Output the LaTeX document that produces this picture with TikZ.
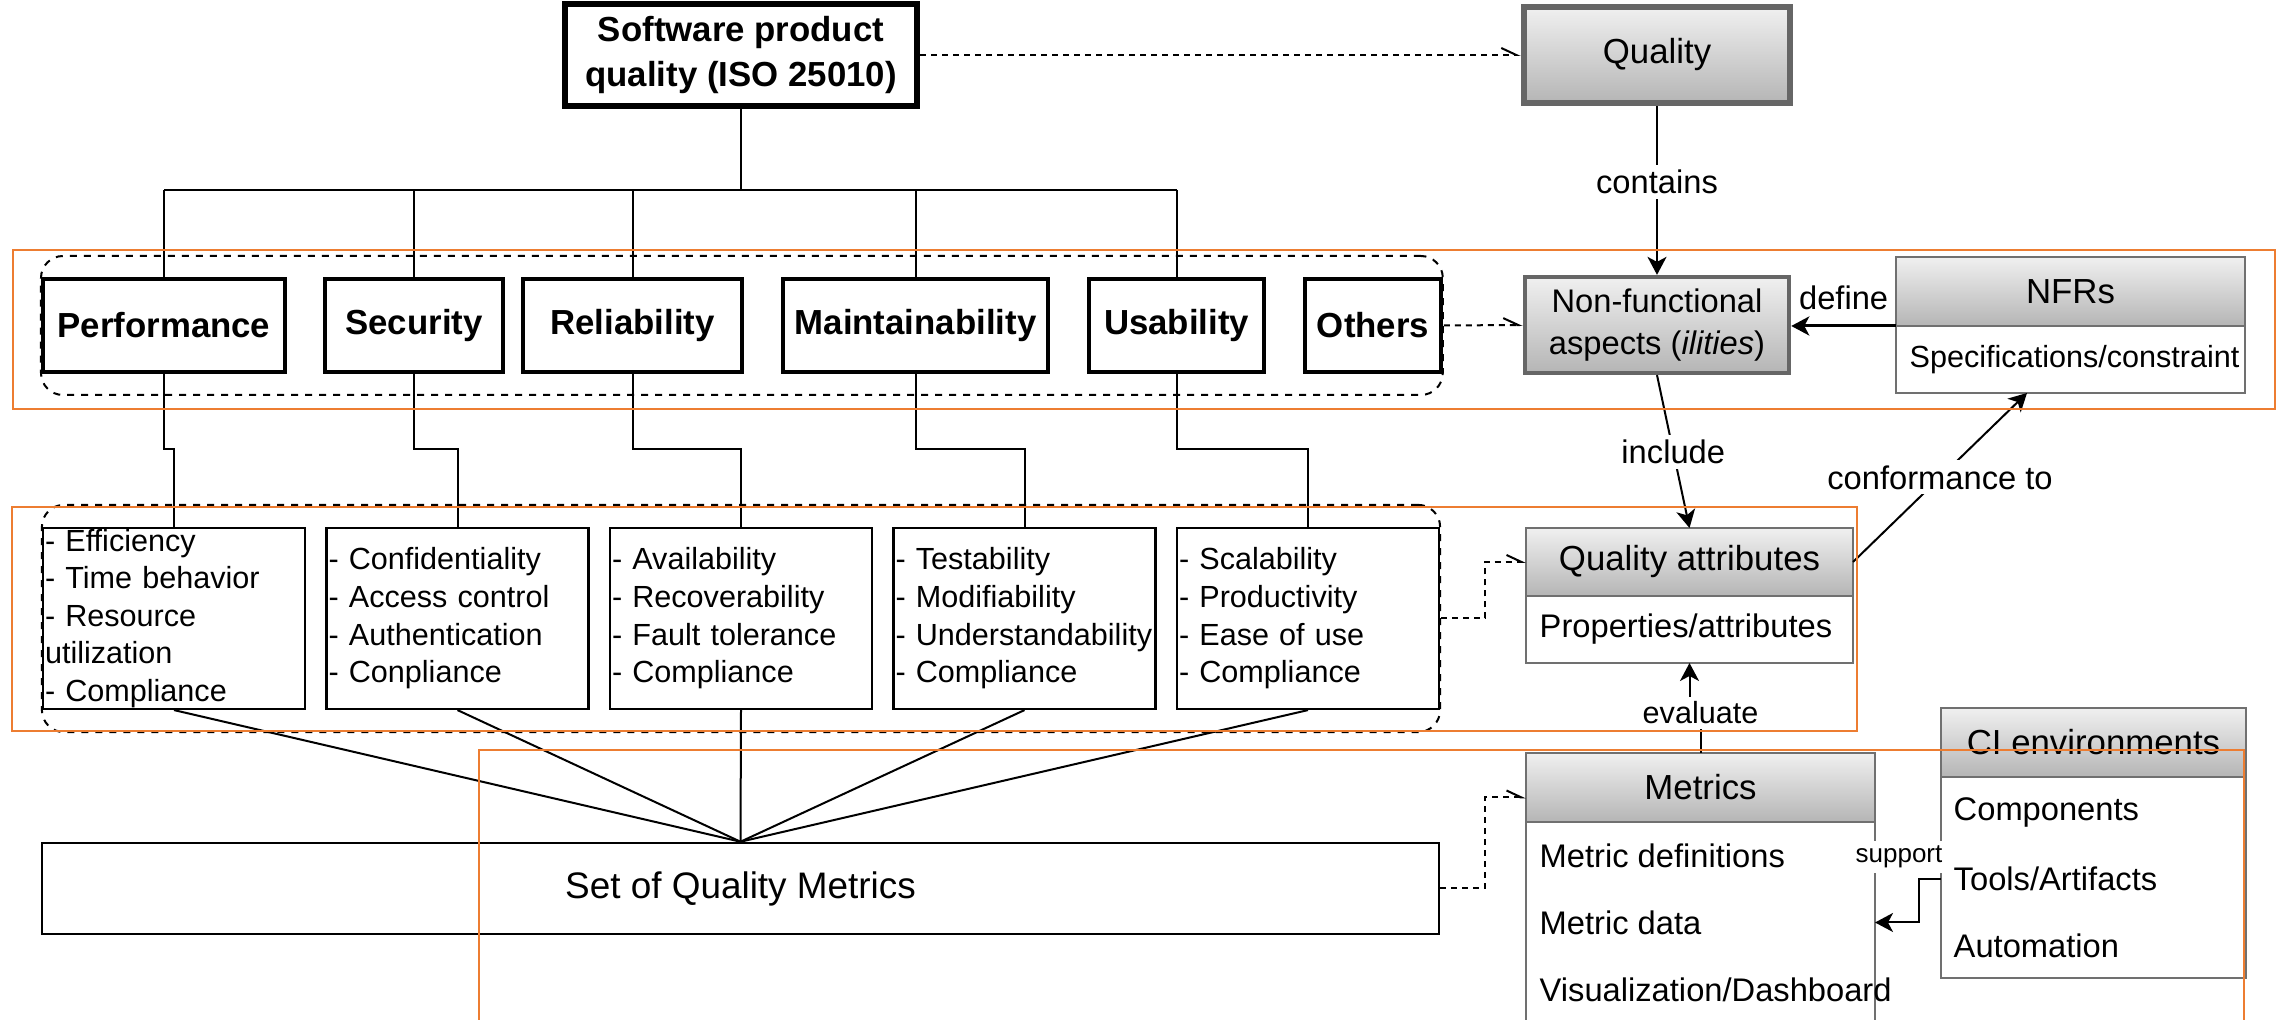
\documentclass[tikz,border=0pt]{standalone}
\usepackage{fontspec}
\setmainfont{Liberation Sans}
\usepackage{tikz}
\usetikzlibrary{arrows.meta,positioning,fit}

\definecolor{hdtop}{HTML}{F0F0F0}
\definecolor{hdbot}{HTML}{B5B5B5}
\definecolor{hdline}{HTML}{707070}
\definecolor{darkline}{HTML}{666666}
\definecolor{grporange}{HTML}{ED7D31}

\newcommand{\fntbig}{\fontsize{9.9}{12.9}\selectfont}
\newcommand{\fntmid}{\fontsize{9.3}{11.9}\selectfont}
\newcommand{\fntlist}{\fontsize{8.7}{10.7}\selectfont\hyphenpenalty=10000}

\tikzset{
  conn/.style={line width=0.2mm},
  catbox/.style={draw, line width=0.4mm, minimum height=9.3mm, font=\fntbig\bfseries},
  listbox/.style={draw, line width=0.22mm, minimum width=26.2mm, minimum height=18.1mm,
    text width=25.8mm, align=left, inner xsep=0.2mm, inner ysep=0pt, font=\fntlist},
  hdbox/.style={draw=hdline, line width=0.22mm, top color=hdtop, bottom color=hdbot,
    outer sep=0pt, font=\fntbig},
  bodybox/.style={draw=hdline, line width=0.22mm, fill=white, outer sep=0pt},
  item/.style={anchor=west, inner sep=0pt, font=\fntmid},
  lbl/.style={fill=white, inner sep=0.5mm, font=\fntmid},
  arr/.style={line width=0.2mm, -{Stealth[length=1.8mm,width=1.9mm,inset=0.5mm]}},
  dasharr/.style={line width=0.2mm, dash pattern=on 0.6mm off 0.5mm,
    -{Straight Barb[left,length=1.5mm,width=1.4mm]}},
  group/.style={draw, line width=0.2mm, dash pattern=on 0.7mm off 0.7mm, rounded corners=2.2mm},
  frame/.style={draw=grporange, line width=0.28mm}
}

\begin{document}
\begin{tikzpicture}[x=1mm,y=1mm]
\useasboundingbox (0,0) rectangle (228.4,102);
\clip (0,0) rectangle (228.4,102);

% Drawing standard and quality
\node[draw, line width=0.6mm, minimum width=35.2mm, minimum height=9.6mm, align=center,
  font=\fntbig\bfseries] (iso) at (74.1,96.5) {Software product\\quality (ISO 25010)};
\node[draw=darkline, line width=0.65mm, top color=hdtop, bottom color=hdbot,
  minimum width=26.6mm, minimum height=9.6mm, font=\fntbig] (qual) at (165.7,96.5) {Quality};

% Drawing quality characteristics
\node[catbox, minimum width=24.2mm] (perf) at (16.4,69.45) {Performance};
\node[catbox, minimum width=17.8mm] (sec) at (41.4,69.45) {Security};
\node[catbox, minimum width=21.9mm] (rel) at (63.25,69.45) {Reliability};
\node[catbox, minimum width=26.3mm] (main) at (91.55,69.45) {Maintainability};
\node[catbox, minimum width=17.5mm] (usa) at (117.65,69.45) {Usability};
\node[catbox, minimum width=13.2mm] (oth) at (137.3,69.45) {Others};
\node[group, fit=(perf)(oth), inner xsep=0pt, inner ysep=2.1mm] (chars) {};

% Drawing sub-characteristics
\node[listbox] (perfl) at (17.4,40.15) {- Efficiency\\- Time behavior\\- Resource\\utilization\\- Compliance};
\node[listbox] (secl) at (45.75,40.15) {- Confidentiality\\- Access control\\- Authentication\\- Conpliance};
\node[listbox] (rell) at (74.1,40.15) {- Availability\\- Recoverability\\- Fault tolerance\\- Compliance};
\node[listbox] (mainl) at (102.45,40.15) {- Testability\\- Modifiability\\- Understandability\\- Compliance};
\node[listbox] (usal) at (130.8,40.15) {- Scalability\\- Productivity\\- Ease of use\\- Compliance};
\node[group, fit=(perfl)(usal), inner xsep=0pt, inner ysep=2.2mm] (subchars) {};

\node[draw, line width=0.25mm, minimum width=139.65mm, minimum height=9.1mm,
  font=\fontsize{10.5}{12}\selectfont] (qset) at (74.05,13.15) {Set of Quality Metrics};

% Drawing tree connectors
\coordinate (bus) at (0,83.0);
\coordinate (steprow) at (0,57.1);
\draw[conn] (iso.south) -- (iso.south |- bus);
\draw[conn] (perf.north |- bus) -- (usa.north |- bus);
\foreach \ch/\ls in {perf/perfl,sec/secl,rel/rell,main/mainl,usa/usal}{
  \draw[conn] (\ch.north |- bus) -- (\ch.north);
  \draw[conn] (\ch.south) -- (\ch.south |- steprow) -| (\ls.north);
  \draw[conn] (\ls.south) -- (qset.north);
}

% Drawing concept model
\node[draw=darkline, line width=0.45mm, top color=hdtop, bottom color=hdbot,
  minimum width=26.4mm, minimum height=9.4mm, align=center, font=\fntmid]
  (nfa) at (165.7,69.5) {Non-functional\\aspects (\textit{ilities})};

\node[hdbox, minimum width=34.9mm, minimum height=6.9mm] (nfr) at (207.05,72.85) {NFRs};
\node[bodybox, minimum width=34.9mm, minimum height=6.7mm, below=0pt of nfr] (nfrbody) {};
\node[item, font=\fntlist] (nfr1) at ([xshift=1.3mm]nfrbody.west) {Specifications/constraint};

\node[hdbox, minimum width=32.7mm, minimum height=6.8mm] (qa) at (168.95,45.8) {Quality attributes};
\node[bodybox, minimum width=32.7mm, minimum height=6.7mm, below=0pt of qa] (qabody) {};
\node[item] (qa1) at ([xshift=1.3mm]qabody.west) {Properties/attributes};

\node[hdbox, minimum width=34.9mm, minimum height=6.9mm] (met) at (170.05,23.25) {Metrics};
\node[bodybox, minimum width=34.9mm, minimum height=30mm, below=0pt of met] (metbody) {};
\foreach \t [count=\i] in {Metric definitions,Metric data,Visualization/Dashboard}
  \node[item] (m\i) at (153.9,23.15-6.7*\i) {\t};

\node[hdbox, minimum width=30.5mm, minimum height=6.9mm] (ci) at (209.35,27.75) {CI environments};
\node[bodybox, minimum width=30.5mm, minimum height=20.1mm, below=0pt of ci] (cibody) {};
\foreach \t [count=\i] in {Components,Tools/Artifacts,Automation}
  \node[item] (ci\i) at (195.3,27.5-6.7*\i) {\t};

% Drawing relations
\draw[dasharr] (iso.east) -- (qual.west);
\draw[dasharr] (chars.east) -- (nfa.west);
\draw[dasharr] (subchars.east) -- ++(4.4,0) |- (qa.west);
\draw[dasharr] (qset.east) -- ++(4.45,0) |- ([yshift=-1mm]met.west);
\draw[arr] (qual.south) -- node[lbl, pos=0.45] {contains} (nfa.north);
\draw[arr, line width=0.3mm] (nfr.south west) -- node[above=1.5mm, inner sep=0pt, font=\fntmid] {define}
  (nfa.east |- nfr.south west);
\draw[arr] (nfa.south) -- node[lbl] {include} (qa.north);
\draw[arr] (qa.east) -- node[lbl] {conformance to} ([xshift=-4.35mm]nfrbody.south);
\draw[arr] (met.north) -- ++(0,4) node[lbl, font=\fntlist] {evaluate} -| (qabody.south);
\draw[arr] (cibody.west |- ci2) -- ++(-2.2,0) |- (metbody.east |- m2);
\node[lbl, font=\fontsize{7.4}{9}\selectfont] (suplbl) at (189.9,16.3) {support};

% Drawing orange frames
\draw[frame] (1.3,61.1) rectangle (227.5,77.0);
\draw[frame] (1.2,28.9) rectangle (185.7,51.3);
\draw[frame] (47.9,-5) rectangle (224.4,27.0);
\end{tikzpicture}
\end{document}
